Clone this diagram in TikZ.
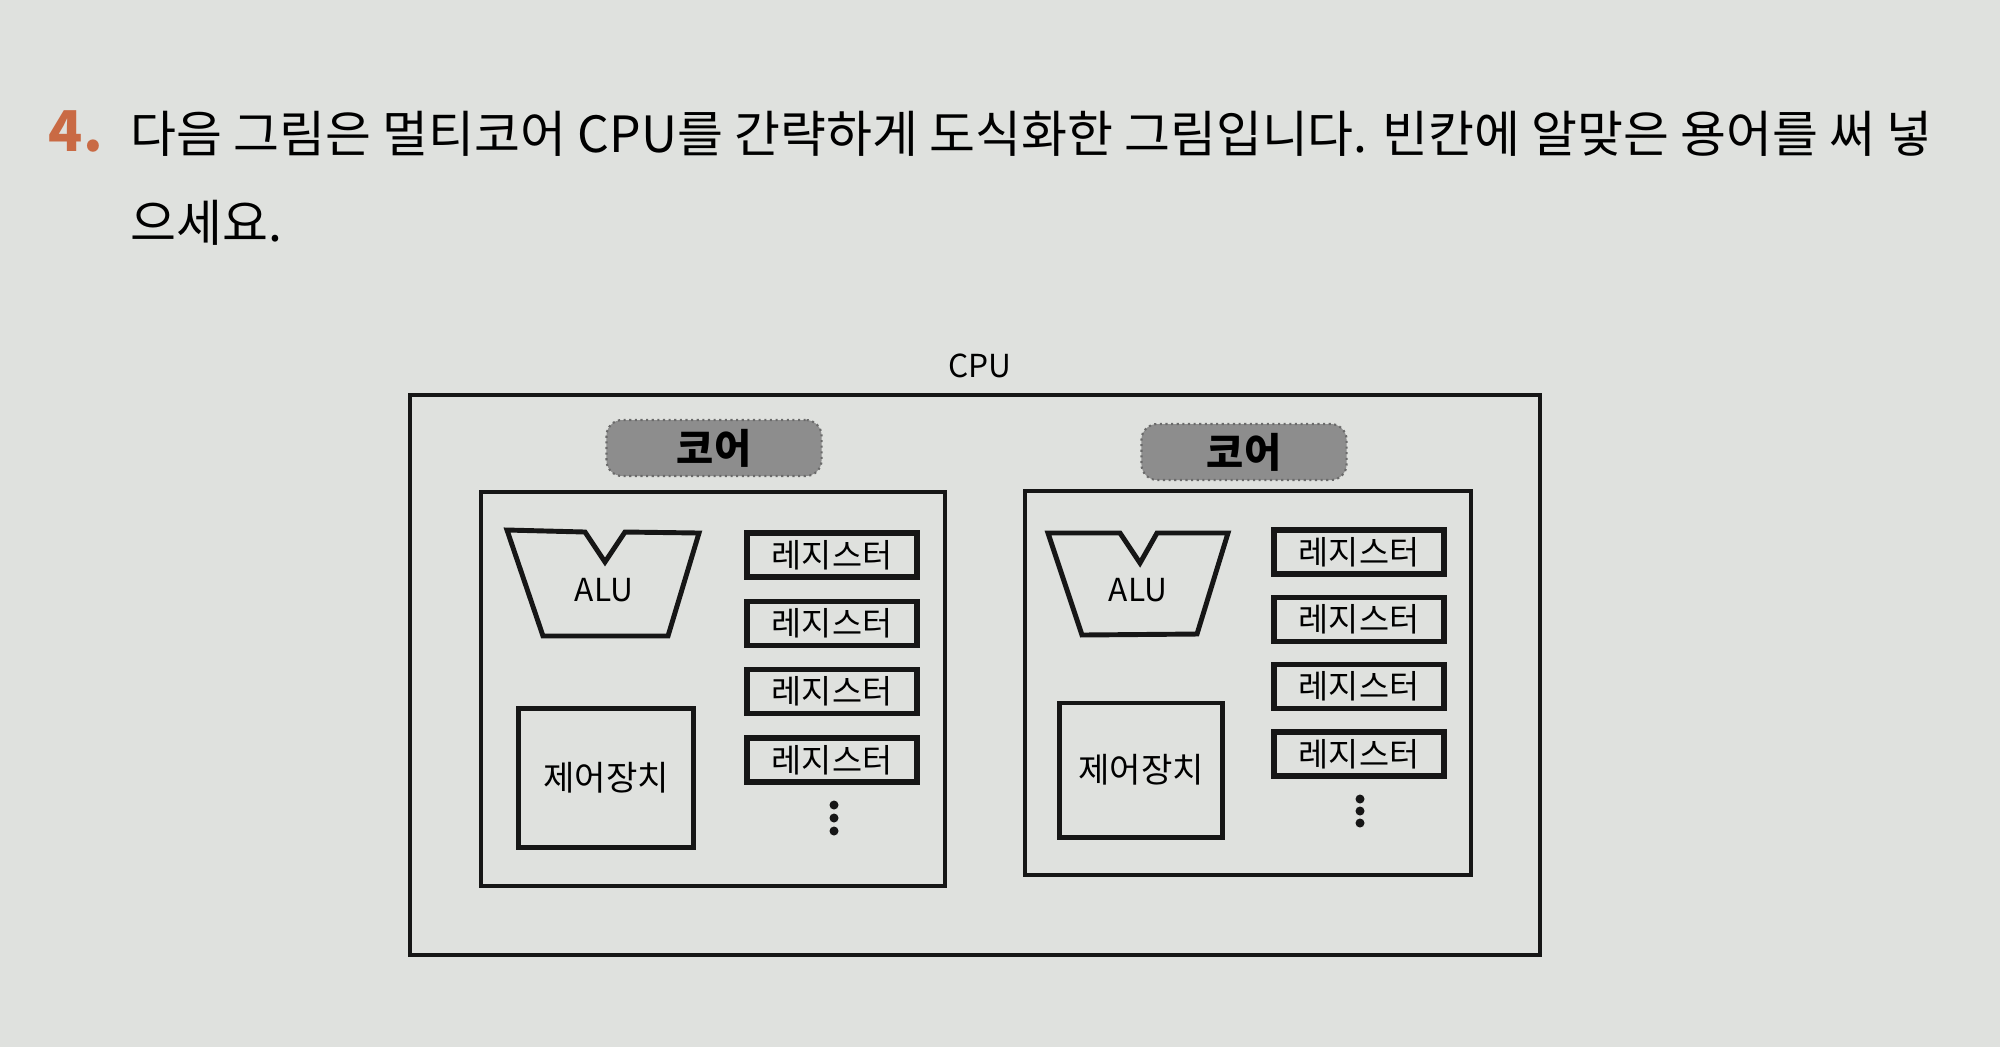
\documentclass[tikz,border=0pt]{standalone}
\usepackage{fontspec}
\setmainfont{Noto Sans CJK KR}
\usepackage{xcolor}
\usetikzlibrary{positioning}
\definecolor{Paper}{HTML}{DFE1DE}
\definecolor{Ink}{HTML}{161616}
\definecolor{Tag}{HTML}{8D8D8D}
\definecolor{Num}{HTML}{C96A44}

\begin{document}
\begin{tikzpicture}[
    x=0.01cm, y=-0.01cm,
    font=\fontsize{9}{11}\selectfont,
    box/.style={draw=Ink, line width=1.2pt, inner sep=0pt},
    regbox/.style={box, line width=1.5pt, minimum width=1.7cm, minimum height=0.44cm,
      font=\fontsize{9.3}{11}\selectfont},
    ctrlbox/.style={box, line width=1.4pt, font=\fontsize{9.7}{11}\selectfont},
    tagbox/.style={
      fill=Tag, draw=Tag!75!black, densely dotted, line width=0.6pt,
      rounded corners=4.5pt, minimum height=0.56cm, inner sep=0pt,
      font=\fontsize{11.5}{13}\selectfont\bfseries
    },
    alu/.style={draw=Ink, line width=1.4pt, line join=miter},
    dotmark/.style={fill=Ink}
  ]
  \fill[Paper] (0,0) rectangle (2000,1047);
  \useasboundingbox (0,0) rectangle (2000,1047);

  % question
  \node[font=\fontsize{16}{18}\selectfont\bfseries, text=Num] (qnum) at (76,131) {4.};
  \node[anchor=west, font=\fontsize{14.2}{17}\selectfont, inner sep=0pt] (qline1) at (130,134)
    {다음 그림은 멀티코어 CPU를 간략하게 도식화한 그림입니다. 빈칸에 알맞은 용어를 써 넣};
  \node[anchor=west, font=\fontsize{14.2}{17}\selectfont, inner sep=0pt] (qline2) at (130,223) {으세요.};

  % cpu
  \node[box, minimum width=11.3cm, minimum height=5.6cm] (cpu) at (975,675) {};
  \node (cpulbl) at (980,366) {CPU};

  % core A
  \node[tagbox, minimum width=2.15cm] (tagA) at (714,448) {코어};
  \node[box, minimum width=4.64cm, minimum height=3.94cm] (coreA) at (713,689) {};
  \draw[alu] (507,530) -- (585,532) -- (605,562) -- (625,532) -- (699,533)
    -- (668,636) -- (543,636) -- cycle;
  \node (aluA) at (604,590) {ALU};
  \node[ctrlbox, minimum width=1.74cm, minimum height=1.39cm] (ctrlA) at (606,778) {제어장치};
  \node[regbox] (regA1) at (832,555) {레지스터};
  \node[regbox, below=0.19cm of regA1] (regA2) {레지스터};
  \node[regbox, below=0.19cm of regA2] (regA3) {레지스터};
  \node[regbox, below=0.19cm of regA3] (regA4) {레지스터};
  \foreach \y in {805,818,831}
    \fill[dotmark] (834,\y) circle[radius=0.045cm];

  % core B
  \node[tagbox, minimum width=2.05cm] (tagB) at (1244,452) {코어};
  \node[box, minimum width=4.46cm, minimum height=3.84cm] (coreB) at (1248,683) {};
  \draw[alu] (1048,533) -- (1120,533) -- (1140,563) -- (1157,533) -- (1228,533)
    -- (1197,634) -- (1082,635) -- cycle;
  \node (aluB) at (1138,590) {ALU};
  \node[ctrlbox, minimum width=1.63cm, minimum height=1.34cm] (ctrlB) at (1141,770) {제어장치};
  \node[regbox] (regB1) at (1359,552) {레지스터};
  \node[regbox, below=0.18cm of regB1] (regB2) {레지스터};
  \node[regbox, below=0.18cm of regB2] (regB3) {레지스터};
  \node[regbox, below=0.18cm of regB3] (regB4) {레지스터};
  \foreach \y in {799,811,823}
    \fill[dotmark] (1360,\y) circle[radius=0.045cm];
\end{tikzpicture}
\end{document}
